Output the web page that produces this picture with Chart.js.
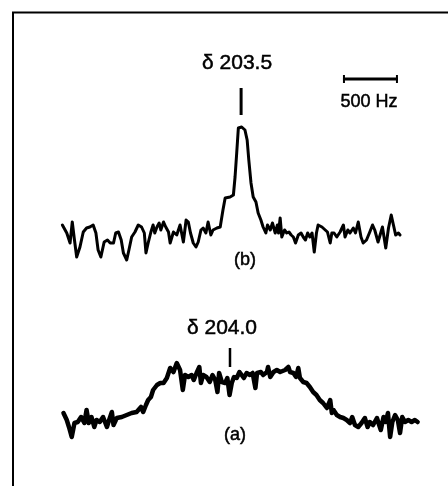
<!DOCTYPE html>
<html>
<head>
<meta charset="utf-8">
<script src="https://cdn.jsdelivr.net/npm/chart.js@4/dist/chart.umd.min.js"></script>
<style>
html,body{margin:0;padding:0;background:#fff;}
#wrap{width:448px;height:486px;}
</style>
</head>
<body>
<div id="wrap"><canvas id="c" width="448" height="486"></canvas></div>
<script>
// Frequency offsets (Hz, relative to the delta 203.5 peak) and intensities (a.u.)
const freqB = [-1615,-1575,-1545,-1525,-1505,-1485,-1455,-1425,-1395,-1365,-1335,-1310,-1290,-1265,-1235,-1205,-1180,-1150,-1130,-1105,-1080,-1060,-1030,-1010,-985,-955,-925,-895,-870,-855,-835,-810,-790,-775,-755,-735,-720,-695,-675,-650,-635,
-605,-575,-545,-515,-490,-470,-450,-425,-400,-380,-355,-335,-310,-290,-265,-245,-210,-180,-155,-135,-90,-60,-45,-30,-15,15,45,65,80,100,120,145,165,190,210,235,250,275,295,320,340,
350,365,380,405,425,445,465,485,505,530,555,575,595,615,635,655,675,695,710,745,775,795,820,835,855,880,910,940,955,980,1000,1030,1050,1075,1100,1120,1150,1180,1205,1225,1255,1295,1325,1350,1375,1395,1415,1440,1455];
const intensB = [8,0,-10,11,-7,-24,-14,1,5,6,8,0,-17,-24,-9,-7,-10,-10,0,1,-7,-20,-27,-17,-4,1,8,6,0,-20,-10,1,8,0,6,10,3,11,6,1,-10,
1,-2,8,-9,13,11,0,-10,-14,-9,3,5,0,11,-2,3,5,6,23,35,36,38,56,80,105,106,103,93,73,50,36,31,20,13,6,0,8,3,10,0,8,
0,15,-4,3,0,1,-2,-4,-10,-2,0,-4,-7,0,-4,0,-19,0,8,6,3,1,-10,0,0,-4,1,8,-4,3,0,5,0,11,-4,-10,-7,1,8,3,-9,6,-15,5,18,8,-2,0,-2];

const freqA = [-1605,-1575,-1555,-1530,-1505,-1475,-1445,-1415,-1395,-1375,-1350,-1325,-1305,-1275,-1245,-1210,-1190,-1165,-1150,-1120,-1075,-1030,-985,-940,-900,-880,-855,-835,-810,-790,-755,-725,-695,-665,-635,
-605,-575,-545,-520,-500,-470,-440,-420,-395,-370,-355,-335,-305,-275,-250,-225,-205,-190,-165,-135,-115,-95,-75,-55,-30,-5,15,35,60,90,115,140,155,190,210,245,255,275,305,335,365,410,440,455,485,510,530,
545,575,605,635,665,695,725,755,790,820,835,850,880,910,940,970,1000,1020,1045,1075,1105,1135,1160,1180,1210,1245,1265,1280,1305,1325,1345,1365,1385,1410,1435,1455,1475,1500,1530,1560,1590,1615];
const intensA = [9,2,-5,-15,-1,0,5,-1,12,-1,5,-5,2,0,5,-5,2,10,-3,4,5,7,9,10,15,10,17,22,25,32,37,39,39,44,54,
50,59,52,32,47,45,47,42,49,55,39,47,45,40,47,42,30,49,40,39,44,27,39,45,44,50,47,44,49,47,49,34,49,50,47,50,55,45,50,52,50,52,55,50,49,45,54,
44,40,39,35,30,27,22,19,14,22,9,12,7,5,4,2,-1,5,-3,-5,-1,4,-5,0,-3,4,-3,-8,5,0,9,-15,0,7,2,-11,5,0,2,0,2,0];

const labelB = "(b)";
const labelA = "(a)";
const shiftB = "δ 203.5";
const shiftA = "δ 204.0";
const scaleBarHz = 500;
const scaleBarLabel = "500 Hz";

function pts(xs, ys){ return xs.map((x,i)=>({x:x, y:ys[i]})); }

const annot = {
  id: 'annot',
  afterDraw(chart){
    const ctx = chart.ctx;
    const sx = chart.scales.x, sb = chart.scales.yB, sa = chart.scales.yA;
    ctx.save();
    ctx.strokeStyle = '#000';
    ctx.fillStyle = '#000';
    ctx.lineCap = 'butt';
    // frame (top and left edges)
    ctx.lineWidth = 2;
    ctx.beginPath();
    ctx.moveTo(13, 486); ctx.lineTo(13, 12.5); ctx.lineTo(448, 12.5);
    ctx.stroke();
    // peak ticks
    ctx.lineWidth = 3;
    ctx.beginPath();
    ctx.moveTo(sx.getPixelForValue(10), sb.getPixelForValue(145));
    ctx.lineTo(sx.getPixelForValue(10), sb.getPixelForValue(118));
    ctx.stroke();
    ctx.lineWidth = 2.5;
    ctx.beginPath();
    ctx.moveTo(sx.getPixelForValue(-91), sa.getPixelForValue(74));
    ctx.lineTo(sx.getPixelForValue(-91), sa.getPixelForValue(55));
    ctx.stroke();
    // scale bar
    const x0 = sx.getPixelForValue(936), x1 = sx.getPixelForValue(936 + scaleBarHz);
    const yb = sb.getPixelForValue(154);
    ctx.lineWidth = 3;
    ctx.beginPath(); ctx.moveTo(x0, yb); ctx.lineTo(x1, yb); ctx.stroke();
    ctx.lineWidth = 2;
    ctx.beginPath();
    ctx.moveTo(x0+1, yb-4); ctx.lineTo(x0+1, yb+4);
    ctx.moveTo(x1-1, yb-4); ctx.lineTo(x1-1, yb+4);
    ctx.stroke();
    // texts
    ctx.textAlign = 'center';
    ctx.textBaseline = 'middle';
    ctx.lineWidth = 0.5;
    const txt = (s, x, y) => { ctx.fillText(s, x, y); ctx.strokeText(s, x, y); };
    ctx.font = '21px "Liberation Sans", Arial, sans-serif';
    txt(shiftB, sx.getPixelForValue(-27), sb.getPixelForValue(170));
    txt(shiftA, sx.getPixelForValue(-164), sa.getPixelForValue(94));
    ctx.font = '18px "Liberation Sans", Arial, sans-serif';
    txt(scaleBarLabel, sx.getPixelForValue(1173), sb.getPixelForValue(131));
    txt(labelB, sx.getPixelForValue(45), sb.getPixelForValue(-27));
    txt(labelA, sx.getPixelForValue(-45), sa.getPixelForValue(-13));
    ctx.restore();
  }
};

new Chart(document.getElementById('c'), {
  type: 'line',
  data: {
    datasets: [
      { label: labelB, data: pts(freqB, intensB), yAxisID: 'yB', borderColor: '#000', borderWidth: 3, pointRadius: 0, tension: 0, fill: false, borderJoinStyle: 'round', borderCapStyle: 'round' },
      { label: labelA, data: pts(freqA, intensA), yAxisID: 'yA', borderColor: '#000', borderWidth: 4.5, pointRadius: 0, tension: 0, fill: false, borderJoinStyle: 'round', borderCapStyle: 'round' }
    ]
  },
  options: {
    responsive: false,
    animation: false,
    layout: { padding: 0 },
    plugins: { legend: { display: false }, tooltip: { enabled: false } },
    scales: {
      x: { type: 'linear', display: false, min: -2182, max: 1891 },
      yB: { type: 'linear', display: false, min: -253, max: 233 },
      yA: { type: 'linear', display: false, min: -64, max: 422 }
    }
  },
  plugins: [annot]
});
</script>
</body>
</html>
